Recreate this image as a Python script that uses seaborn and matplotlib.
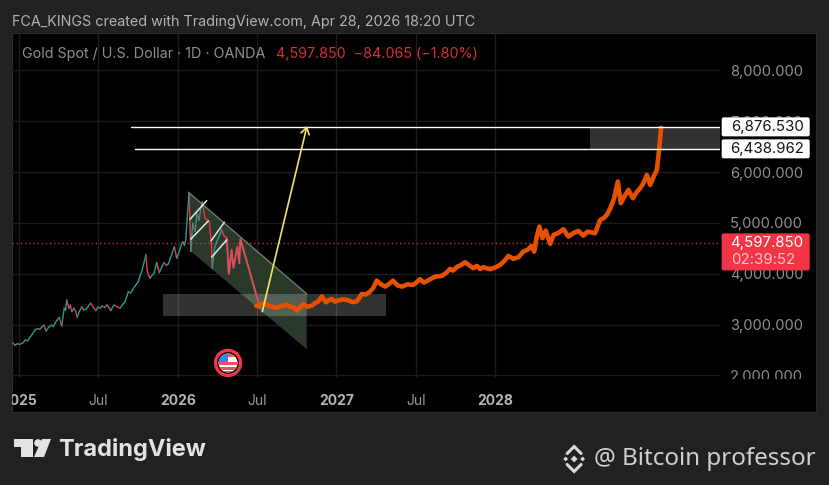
import numpy as np
import pandas as pd
import matplotlib.pyplot as plt
import seaborn as sns
from matplotlib.patches import Rectangle, Circle, FancyBboxPatch, Polygon
from matplotlib.ticker import FuncFormatter
from matplotlib.transforms import Bbox

W, H = 829, 485

# real candles (approx closes), x is fractional year
candle_x = [2024.96, 2024.975, 2024.99, 2025.005, 2025.027, 2025.04, 2025.055, 2025.069, 2025.085, 2025.101,
            2025.115, 2025.13, 2025.143, 2025.157, 2025.170, 2025.188, 2025.206, 2025.216, 2025.227, 2025.240,
            2025.254, 2025.269, 2025.277, 2025.285, 2025.293, 2025.301, 2025.308, 2025.315, 2025.324, 2025.332,
            2025.347, 2025.357, 2025.367, 2025.381, 2025.395, 2025.408, 2025.422, 2025.437, 2025.452, 2025.468,
            2025.485, 2025.497, 2025.510, 2025.524, 2025.540, 2025.556, 2025.567, 2025.578, 2025.589, 2025.599,
            2025.618, 2025.637, 2025.652, 2025.668, 2025.678, 2025.689, 2025.703, 2025.717, 2025.728, 2025.740,
            2025.752, 2025.762, 2025.773, 2025.786, 2025.799, 2025.809, 2025.818, 2025.826, 2025.838, 2025.851,
            2025.860, 2025.868, 2025.876, 2025.884, 2025.899, 2025.914, 2025.928, 2025.941, 2025.952, 2025.965,
            2025.979, 2025.994, 2026.008, 2026.020, 2026.032, 2026.042, 2026.051, 2026.057, 2026.071, 2026.082,
            2026.095, 2026.109, 2026.122, 2026.134, 2026.144, 2026.155, 2026.172, 2026.199, 2026.212, 2026.218,
            2026.232, 2026.246, 2026.262, 2026.277, 2026.292, 2026.309]
candle_y = [2645, 2593, 2625, 2610, 2645, 2700, 2680, 2751, 2815, 2894,
            2920, 2905, 2947, 2990, 2874, 2950, 2992, 2960, 3026, 3085,
            3144, 2973, 3140, 3320, 3280, 3484, 3390, 3320, 3380, 3254,
            3320, 3260, 3144, 3260, 3352, 3285, 3301, 3360, 3419, 3340,
            3273, 3345, 3320, 3365, 3340, 3385, 3330, 3273, 3340, 3385,
            3350, 3320, 3390, 3450, 3540, 3647, 3620, 3680, 3745, 3790,
            3843, 3950, 4040, 4200, 4368, 4040, 3960, 3910, 3965, 4008,
            4120, 4217, 4110, 4020, 4130, 4217, 4160, 4191, 4290, 4400,
            4531, 4303, 4420, 4540, 4629, 4560, 4663, 4957, 5580, 4433,
            4991, 4826, 5180, 5050, 5260, 5415, 5089, 5022, 4600, 4106,
            4500, 4629, 4740, 4859, 4740, 4696]

# red projection after the last bar
proj_x = [2026.309, 2026.322, 2026.340, 2026.351, 2026.376, 2026.388, 2026.395, 2026.519, 2026.487]
proj_y = [4696, 3994, 4466, 4112, 4531, 4205, 4676, 3326, 3366]

# orange projection
path_x = [2026.498, 2026.538, 2026.56, 2026.582, 2026.60, 2026.624, 2026.645, 2026.664, 2026.685, 2026.708, 2026.730, 2026.750,
          2026.770, 2026.790, 2026.818, 2026.845, 2026.865, 2026.884, 2026.908, 2026.935, 2026.952, 2026.971, 2026.99, 2027.010,
          2027.04, 2027.073, 2027.10, 2027.130, 2027.160, 2027.185, 2027.212, 2027.232, 2027.254, 2027.28, 2027.307,
          2027.332, 2027.357, 2027.385, 2027.412, 2027.448, 2027.483, 2027.505, 2027.527, 2027.552, 2027.585, 2027.622, 2027.664,
          2027.69, 2027.716, 2027.735, 2027.759, 2027.785, 2027.811, 2027.838, 2027.863, 2027.885, 2027.905, 2027.924, 2027.968,
          2028.0, 2028.031, 2028.058, 2028.084, 2028.115, 2028.147, 2028.178, 2028.205, 2028.231, 2028.246,
          2028.262, 2028.279, 2028.298, 2028.319, 2028.347, 2028.368, 2028.40, 2028.430, 2028.462, 2028.495, 2028.525, 2028.556, 2028.582,
          2028.630, 2028.662, 2028.684, 2028.704, 2028.728, 2028.750, 2028.773, 2028.792, 2028.815, 2028.840, 2028.868, 2028.892, 2028.914, 2028.935, 2028.956,
          2028.977, 2028.998, 2029.019, 2029.033, 2029.040, 2029.046]
path_y = [3366, 3419, 3385, 3366, 3345, 3326, 3360, 3372, 3390, 3352, 3345, 3273,
          3330, 3399, 3350, 3372, 3420, 3450, 3548, 3438, 3480, 3503, 3450, 3470,
          3495, 3478, 3440, 3458, 3601, 3590, 3647, 3720, 3863, 3790, 3745,
          3800, 3863, 3770, 3745, 3790, 3778, 3830, 3890, 3824, 3880, 3941, 3955,
          4010, 4093, 4060, 4132, 4170, 4224, 4160, 4106, 4152, 4090, 4126, 4087,
          4120, 4171, 4250, 4348, 4290, 4323, 4433, 4470, 4545, 4433,
          4720, 4924, 4696, 4845, 4584, 4761, 4800, 4873, 4727, 4800, 4839, 4747, 4826,
          4794, 5056, 5090, 5154, 5300, 5482, 5808, 5384, 5520, 5645, 5482, 5600, 5678, 5780, 5940,
          5743, 5900, 6038, 6431, 6667, 6863]

# drawings
channel_x = [2026.067, 2026.813, 2026.813, 2026.080]
channel_y = [5600, 3601, 2515, 4446]
zone_x = [2025.908, 2027.313]
zone_y = [3175, 3601]
top_zone_x = [2028.60, 2029.418]
level_hi, level_lo = 6876.530, 6438.962
level_hi_start, level_lo_start = 2025.706, 2025.731
last_price = 4597.850
arrow_start = (2026.533, 3254)
arrow_end = (2026.815, 6903)
flags_x = [[2026.078, 2026.183], [2026.082, 2026.193], [2026.210, 2026.294], [2026.214, 2026.309]]
flags_y = [[5069, 5435], [4676, 5036], [4643, 5010], [4323, 4663]]

y_ticks = [2000, 3000, 4000, 5000, 6000, 7000, 8000]
x_ticks = [2025, 2025.5, 2026, 2026.5, 2027, 2027.5, 2028]
x_labels = ['2025', 'Jul', '2026', 'Jul', '2027', 'Jul', '2028']

sns.set_theme(style='dark', rc={'axes.facecolor': 'none', 'figure.facecolor': '#212121'})
plt.rcParams['font.family'] = ['Inter', 'DejaVu Sans']

fig = plt.figure(figsize=((W + 0.2) / 100, (H + 0.2) / 100), dpi=100)
fig.add_artist(Rectangle((12 / W, 1 - 412 / H), 804 / W, 379 / H, transform=fig.transFigure,
                         facecolor='black', edgecolor='#2c2c2c', lw=0.8, zorder=-1))
ax = fig.add_axes([12 / W, 1 - 378 / H, 708 / W, 345 / H])
ax.set_xlim(2024.956, 2029.418)
ax.set_ylim(1951, 8730)

# channel and zones
ax.fill(channel_x, channel_y, color='#2b392b', lw=0, zorder=1)
ax.plot(channel_x[:2], channel_y[:2], color='#6f796f', lw=1, zorder=1.5)
ax.fill_between(zone_x, zone_y[0], zone_y[1], color='white', alpha=0.2, lw=0, zorder=2)
ax.fill_between(top_zone_x, level_lo, level_hi, color='white', alpha=0.2, lw=0, zorder=2)

# candles as up/down segments
rows = []
for i in range(1, len(candle_x)):
    d = 'up' if candle_y[i] >= candle_y[i - 1] else 'down'
    rows.append((i, d, candle_x[i - 1], candle_y[i - 1]))
    rows.append((i, d, candle_x[i], candle_y[i]))
candles = pd.DataFrame(rows, columns=['seg', 'dir', 'x', 'y'])
sns.lineplot(data=candles, x='x', y='y', hue='dir', units='seg', estimator=None, sort=False, legend=False,
             palette={'up': '#1f9d8f', 'down': '#f23645'}, lw=1.0, ax=ax, zorder=3)

sns.lineplot(x=proj_x, y=proj_y, sort=False, estimator=None, color='#d9505c', lw=1.4, ax=ax, zorder=3)
for fx, fy in zip(flags_x, flags_y):
    ax.plot(fx, fy, color='#e6e6e6', lw=1.1, zorder=4)
sns.lineplot(x=path_x, y=path_y, sort=False, estimator=None, color='#e65100', lw=3.3, ax=ax, zorder=5)

# levels
ax.plot([level_hi_start, 2029.418], [level_hi, level_hi], color='white', lw=1.0, zorder=6)
ax.plot([level_lo_start, 2029.418], [level_lo, level_lo], color='white', lw=1.0, zorder=6)
ax.axhline(last_price, color='#c8323c', lw=1, ls=(0, (1, 2)), zorder=2.5)
ax.annotate('', xy=arrow_end, xytext=arrow_start, zorder=6,
            arrowprops=dict(arrowstyle='->,head_length=0.4,head_width=0.25', color='#f2e36b', lw=1.2,
                            shrinkA=0, shrinkB=0))

# axes
ax.yaxis.tick_right()
ax.set_yticks(y_ticks)
ax.yaxis.set_major_formatter(FuncFormatter(lambda v, p: f'{v:,.3f}'))
ax.set_xticks(x_ticks, x_labels)
ax.set_xlabel('')
ax.set_ylabel('')
ax.grid(True, color='#1c1c1c', lw=1)
ax.set_axisbelow(True)
ax.tick_params(axis='y', length=0, pad=7, labelsize=10.6, labelcolor='#8f8f8f')
ax.tick_params(axis='x', length=0, pad=11.5, labelsize=10, labelcolor='#9a9a9a')
for s in ax.spines.values():
    s.set_visible(False)
for lab, txt in zip(ax.get_xticklabels(), x_labels):
    if txt != 'Jul':
        lab.set_fontweight('bold')
        lab.set_color('#b5b5b5')
ax.get_xticklabels()[0].set_clip_box(Bbox([[12, 0], [W, H]]))
ax.get_xticklabels()[0].set_clip_on(True)
ax.get_yticklabels()[0].set_clip_box(Bbox([[0, H - 379], [W, H]]))
ax.get_yticklabels()[0].set_clip_on(True)

# overlay in pixel coordinates for header, tags and logos
ov = fig.add_axes([0, 0, 1, 1], zorder=10)
ov.set_xlim(0, W)
ov.set_ylim(H, 0)
ov.axis('off')

ov.text(12, 22, 'FCA_KINGS created with TradingView.com, Apr 28, 2026 18:20 UTC', color='#b3b3b3',
        fontsize=10.33, va='center')
ov.text(22, 54, 'Gold Spot / U.S. Dollar · 1D · OANDA', color='#8f8f8f', fontsize=10.3, va='center')
ov.text(276, 54, '4,597.850  −84.065 (−1.80%)', color='#d5303c', fontsize=10.3, va='center')

for y0, txt in [(117.5, '6,876.530'), (139.5, '6,438.962')]:
    ov.add_patch(FancyBboxPatch((721.5, y0), 88, 19, boxstyle='round,pad=0,rounding_size=2', fc='white', ec='none'))
    ov.text(767, y0 + 9.7, txt, color='#131313', fontsize=10.8, ha='center', va='center')
ov.add_patch(FancyBboxPatch((721.5, 233.5), 88, 37, boxstyle='round,pad=0,rounding_size=2', fc='#f23645', ec='none'))
ov.text(767, 243, '4,597.850', color='white', fontsize=10.8, ha='center', va='center')
ov.text(731, 260, '02:39:52', color='#ffc4ca', fontsize=10.8, ha='left', va='center')

# calendar flag
ring = Circle((228, 363), 12.5, fc='black', ec='#f23645', lw=2.4)
ov.add_patch(ring)
disc = Circle((228, 363), 9.5, fc='white', ec='none')
ov.add_patch(disc)
for sy in [362, 367, 371]:
    r = Rectangle((216, sy), 24, 2.6, fc='#f0525c', ec='none')
    ov.add_patch(r)
    r.set_clip_path(disc)
canton = Rectangle((216, 352), 12, 10.5, fc='#3a86e8', ec='none')
ov.add_patch(canton)
canton.set_clip_path(disc)
top_red = Rectangle((228, 354), 12, 3, fc='#f0525c', ec='none')
ov.add_patch(top_red)
top_red.set_clip_path(disc)

# TradingView logo
logo = '#e2e2e2'
ov.add_patch(Polygon([(14, 439), (33, 439), (33, 457), (21, 457), (21, 447), (14, 447)], fc=logo, ec='none'))
ov.add_patch(Circle((38, 443), 3.8, fc=logo, ec='none'))
ov.add_patch(Polygon([(42, 439), (51, 439), (44, 457), (34, 457)], fc=logo, ec='none'))
ov.text(58.5, 449, 'TradingView', color=logo, fontsize=17, fontweight='bold', va='center', family=['Inter', 'DejaVu Sans'])

# Binance mark and credit
bx, by = 574, 459
for dx, dy, s in [(0, 0, 3.4), (-8.5, 0, 2.4), (8.5, 0, 2.4)]:
    ov.add_patch(Polygon([(bx + dx - s, by + dy), (bx + dx, by + dy - s), (bx + dx + s, by + dy), (bx + dx, by + dy + s)],
                         fc='#d8d8d8', ec='none'))
ov.plot([bx - 7, bx, bx + 7], [by - 5.5, by - 12.5, by - 5.5], color='#d8d8d8', lw=2.2, solid_joinstyle='miter')
ov.plot([bx - 7, bx, bx + 7], [by + 5.5, by + 12.5, by + 5.5], color='#d8d8d8', lw=2.2, solid_joinstyle='miter')
ov.text(594, 459, '@ Bitcoin professor', color='#cfcfcf', fontsize=17.4, va='center', family=['Noto Sans', 'DejaVu Sans'])

fig.savefig('out.png', dpi=100, facecolor=fig.get_facecolor())
